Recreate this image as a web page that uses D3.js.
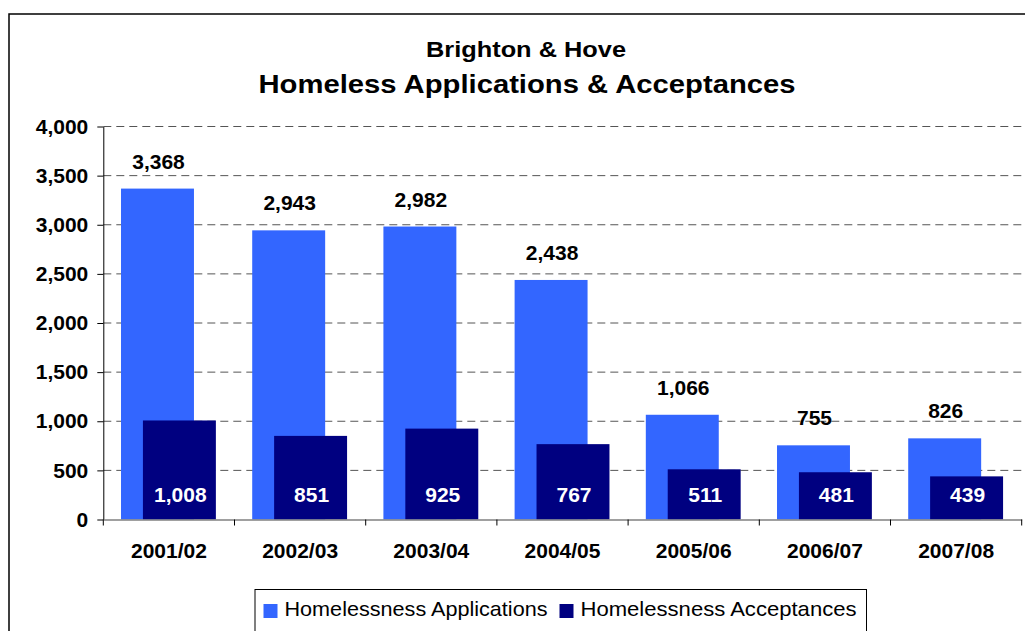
<!DOCTYPE html>
<html>
<head>
<meta charset="utf-8">
<script src="https://cdn.jsdelivr.net/npm/d3@7"></script>
<style>
  body { margin: 0; background: #fff; }
  text { font-family: Arial, "Liberation Sans", sans-serif; }
</style>
</head>
<body>
<div id="chart"></div>
<script>
// data
const years = ["2001/02", "2002/03", "2003/04", "2004/05", "2005/06", "2006/07", "2007/08"];
const applications = [3368, 2943, 2982, 2438, 1066, 755, 826];
const acceptances = [1008, 851, 925, 767, 511, 481, 439];
const yTicks = [0, 500, 1000, 1500, 2000, 2500, 3000, 3500, 4000];
const seriesNames = ["Homelessness Applications", "Homelessness Acceptances"];
const colors = ["#3366FF", "#000080"];

const width = 1025, height = 631;
const margin = {top: 126.5, right: 3.3, bottom: 111.5, left: 103.3};

const svg = d3.select("#chart").append("svg")
    .attr("width", width)
    .attr("height", height);

// outer frame (runs off the right and bottom edge)
svg.append("rect")
    .attr("x", 9).attr("y", 14)
    .attr("width", 1100).attr("height", 700)
    .attr("fill", "none")
    .attr("stroke", "#000")
    .attr("stroke-width", 1.5);

// titles
svg.append("text")
    .attr("x", 526).attr("y", 57)
    .attr("text-anchor", "middle")
    .attr("font-size", 22).attr("font-weight", "bold")
    .attr("textLength", 200).attr("lengthAdjust", "spacingAndGlyphs")
    .text("Brighton & Hove");

svg.append("text")
    .attr("x", 527).attr("y", 93)
    .attr("text-anchor", "middle")
    .attr("font-size", 25).attr("font-weight", "bold")
    .attr("textLength", 537).attr("lengthAdjust", "spacingAndGlyphs")
    .text("Homeless Applications & Acceptances");

const x = d3.scaleBand()
    .domain(years)
    .range([margin.left, width - margin.right])
    .padding(0);

const y = d3.scaleLinear()
    .domain([0, 4000])
    .range([height - margin.bottom - 0.0, margin.top]);

const bw = x.bandwidth();
const barW = bw * 0.556;
const appOff = bw * 0.135;
const accOff = bw * 0.302;

// gridlines
svg.append("g")
    .selectAll("line")
    .data(yTicks.filter(d => d > 0))
    .join("line")
    .attr("x1", margin.left).attr("x2", width - margin.right)
    .attr("y1", d => y(d)).attr("y2", d => y(d))
    .attr("stroke", "#555")
    .attr("stroke-dasharray", "8,5");

// y axis
const yAxis = d3.axisLeft(y)
    .tickValues(yTicks)
    .tickSize(6)
    .tickPadding(9)
    .tickSizeOuter(0)
    .tickFormat(d3.format(","));

const yAxisG = svg.append("g")
    .attr("transform", `translate(${margin.left},0)`)
    .call(yAxis);
yAxisG.selectAll("text")
    .attr("font-size", 21).attr("font-weight", "bold")
    .attr("fill", "#000")
    .attr("font-family", "Arial, 'Liberation Sans', sans-serif");
yAxisG.selectAll("line, path").attr("stroke", "#000");

// bars
const appBars = svg.append("g").selectAll("rect")
    .data(applications)
    .join("rect")
    .attr("x", (d, i) => x(years[i]) + appOff)
    .attr("y", d => y(d))
    .attr("width", barW)
    .attr("height", d => y(0) - y(d))
    .attr("fill", colors[0]);

svg.append("g").selectAll("rect")
    .data(acceptances)
    .join("rect")
    .attr("x", (d, i) => x(years[i]) + accOff)
    .attr("y", d => y(d))
    .attr("width", barW)
    .attr("height", d => y(0) - y(d))
    .attr("fill", colors[1]);

// x axis
const xAxis = d3.axisBottom(x).tickSize(0).tickSizeOuter(0);
const xAxisG = svg.append("g")
    .attr("transform", `translate(0,${y(0)})`)
    .call(xAxis);
xAxisG.select(".domain").attr("stroke", "#808080").attr("stroke-width", 1.5);
xAxisG.selectAll("text")
    .attr("y", 38)
    .attr("dy", 0)
    .attr("font-size", 21).attr("font-weight", "bold")
    .attr("fill", "#000")
    .attr("font-family", "Arial, 'Liberation Sans', sans-serif");

// category separators
xAxisG.selectAll(".sep")
    .data(years.concat(["end"]))
    .join("line")
    .attr("class", "sep")
    .attr("x1", (d, i) => margin.left + i * bw)
    .attr("x2", (d, i) => margin.left + i * bw)
    .attr("y1", 0).attr("y2", 6)
    .attr("stroke", "#000");

// value labels
svg.append("g").selectAll("text")
    .data(applications)
    .join("text")
    .attr("x", (d, i) => x(years[i]) + appOff + barW / 2 + 1)
    .attr("y", d => y(d) - 20)
    .attr("text-anchor", "middle")
    .attr("font-size", 21).attr("font-weight", "bold")
    .text(d => d3.format(",")(d));

svg.append("g").selectAll("text")
    .data(acceptances)
    .join("text")
    .attr("x", (d, i) => x(years[i]) + accOff + barW / 2 + 1)
    .attr("y", y(0) - 18)
    .attr("text-anchor", "middle")
    .attr("font-size", 21).attr("font-weight", "bold")
    .attr("fill", "#fff")
    .text(d => d3.format(",")(d));

// legend
const legend = svg.append("g");
legend.append("rect")
    .attr("x", 255).attr("y", 589.5)
    .attr("width", 611.5).attr("height", 60)
    .attr("fill", "#fff")
    .attr("stroke", "#000");

const legendX = [263.5, 559.5];
const legendW = [263, 276];
const items = legend.selectAll(".item")
    .data(seriesNames)
    .join("g")
    .attr("class", "item")
    .attr("transform", (d, i) => `translate(${legendX[i]},604)`);
items.append("rect")
    .attr("width", 14).attr("height", 14)
    .attr("fill", (d, i) => colors[i]);
items.append("text")
    .attr("x", 21).attr("y", 11.5)
    .attr("font-size", 21)
    .attr("textLength", (d, i) => legendW[i])
    .attr("lengthAdjust", "spacingAndGlyphs")
    .text(d => d);
</script>
</body>
</html>
